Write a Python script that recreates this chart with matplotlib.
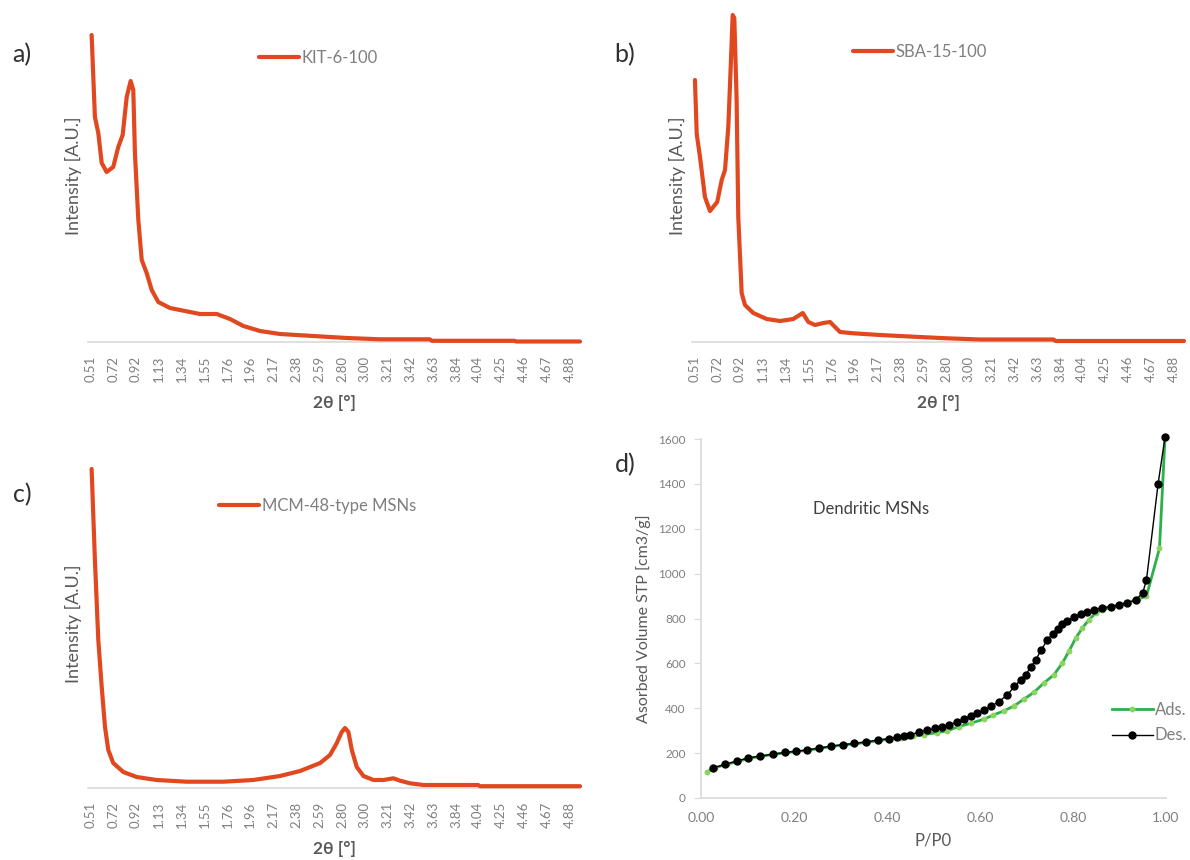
import matplotlib.pyplot as plt

plt.rcParams['font.family'] = ['Lato', 'DejaVu Sans']

# XRD tick labels (category axis)
xrd_ticks = ['0.51', '0.72', '0.92', '1.13', '1.34', '1.55', '1.76', '1.96', '2.17', '2.38', '2.59',
             '2.80', '3.00', '3.21', '3.42', '3.63', '3.84', '4.04', '4.25', '4.46', '4.67', '4.88']

# a) KIT-6-100
kit_x = [0.516, 0.546, 0.577, 0.608, 0.653, 0.713, 0.759, 0.799, 0.836, 0.872, 0.896, 0.911, 0.942,
         0.973, 1.018, 1.064, 1.124, 1.231, 1.413, 1.504, 1.657, 1.778, 1.90, 2.052, 2.234, 2.538,
         2.843, 3.147, 3.60, 3.62, 4.37, 4.39, 4.97]
kit_y = [307, 225, 209, 179, 170, 175, 195, 207, 245, 261, 252, 189, 122,
         82, 69, 52, 40, 34, 30, 28, 28, 23, 16, 11, 8, 6,
         4, 2.7, 2.7, 1.2, 1.2, 0.5, 0.5]

# b) SBA-15-100
sba_x = [0.51, 0.526, 0.556, 0.601, 0.647, 0.713, 0.754, 0.784, 0.814, 0.836, 0.854, 0.869, 0.89,
         0.905, 0.936, 0.966, 1.042, 1.164, 1.286, 1.407, 1.493, 1.544, 1.605, 1.681, 1.742, 1.833,
         1.954, 2.198, 2.502, 2.807, 3.11, 3.78, 3.80, 4.97]
sba_y = [262, 208, 185, 145, 131, 140, 162, 172, 215, 275, 327, 324, 242,
         125, 49, 37, 29, 23, 21, 23, 29, 20, 17, 19, 20, 10,
         8.7, 7, 5.3, 3.7, 2.5, 2.5, 1, 1]

# c) MCM-48-type MSNs
mcm_x = [0.516, 0.546, 0.577, 0.608, 0.638, 0.668, 0.713, 0.805, 0.927, 1.109, 1.383, 1.717, 1.99,
         2.234, 2.417, 2.60, 2.69, 2.752, 2.797, 2.827, 2.858, 2.889, 2.934, 2.995, 3.086, 3.177,
         3.268, 3.329, 3.42, 3.542, 4.04, 4.06, 4.97]
mcm_y = [319, 228, 148, 101, 61, 38, 25, 16, 11, 8, 6.3, 6.3, 8,
         12, 17, 25, 33, 45, 56, 60, 56, 38, 21, 12, 8, 8,
         9.7, 7.3, 4.7, 3, 3, 1.8, 1.8]

# d) Dendritic MSNs isotherm
ads_x = [0.012, 0.03, 0.055, 0.08, 0.105, 0.13, 0.155, 0.18, 0.205, 0.23, 0.255, 0.28, 0.305, 0.33,
         0.355, 0.38, 0.405, 0.43, 0.455, 0.48, 0.507, 0.529, 0.554, 0.58, 0.608, 0.629, 0.651,
         0.673, 0.694, 0.716, 0.737, 0.759, 0.777, 0.791, 0.806, 0.82, 0.834, 0.849, 0.863, 0.88,
         0.9, 0.92, 0.94, 0.958, 0.986, 0.998]
ads_y = [116, 135, 150, 164, 177, 186, 194, 201, 207, 213, 221, 229, 236, 241,
         248, 255, 262, 268, 275, 283, 291, 299, 318, 333, 351, 370, 388,
         410, 440, 471, 512, 549, 601, 653, 713, 757, 794, 824, 839, 850,
         860, 872, 887, 900, 1113, 1610]
des_x = [0.026, 0.052, 0.078, 0.102, 0.127, 0.154, 0.180, 0.205, 0.229, 0.254, 0.280, 0.305, 0.330,
         0.355, 0.380, 0.405, 0.422, 0.436, 0.45, 0.468, 0.486, 0.504, 0.519, 0.533, 0.551, 0.565,
         0.58, 0.594, 0.608, 0.623, 0.641, 0.659, 0.674, 0.688, 0.698, 0.709, 0.72, 0.732, 0.745,
         0.756, 0.767, 0.777, 0.788, 0.802, 0.817, 0.831, 0.845, 0.863, 0.881, 0.899, 0.917, 0.935,
         0.95, 0.958, 0.983, 0.998]
des_y = [134, 150, 165, 179, 187, 195, 203, 208, 214, 223, 231, 238, 243,
         250, 258, 265, 273, 277, 283, 292, 302, 310, 318, 325, 340, 352,
         366, 378, 390, 408, 430, 460, 497, 527, 549, 583, 616, 661, 705,
         732, 753, 775, 791, 806, 819, 831, 838, 849, 853, 860, 870, 882,
         915, 972, 1400, 1610]

W, H = 1190, 860
ORANGE = '#E1481F'
GRAY = '#7F7F7F'
DARK = '#595959'
AXC = '#D9D9D9'

fig = plt.figure(figsize=(W / 100, H / 100), dpi=100)


def box(l, r, b, t):
    return [l / W, 1 - b / H, (r - l) / W, (b - t) / H]


def xrd_panel(rect, x, y, ytop, name, leg_xy):
    ax = fig.add_axes(rect)
    ax.plot(x, y, color=ORANGE, lw=3.0, label=name, solid_joinstyle='round',
            solid_capstyle='round', clip_on=False)
    ax.set_xlim(0.483, 4.97)
    ax.set_ylim(0, ytop)
    for s in ['top', 'right', 'left']:
        ax.spines[s].set_visible(False)
    ax.spines['bottom'].set_color(AXC)
    ax.spines['bottom'].set_linewidth(1.2)
    ax.spines['bottom'].set_zorder(0)
    ax.set_yticks([])
    ax.set_xticks([float(t) for t in xrd_ticks])
    ax.set_xticklabels(xrd_ticks, rotation=90, fontsize=9.5, color=GRAY)
    ax.tick_params(axis='x', length=0, pad=10)
    ax.set_ylabel('Intensity [A.U.]', fontsize=13, color=DARK, labelpad=4)
    ax.set_xlabel('2θ [°]', fontsize=12.5, color=DARK, fontweight='bold', labelpad=9)
    ax.legend(loc='center left', bbox_to_anchor=leg_xy, frameon=False, fontsize=12,
              handlelength=2.4, handletextpad=0.15, borderpad=0, labelcolor=GRAY)
    return ax


xrd_panel(box(88, 580, 342, 10), kit_x, kit_y, 332, 'KIT-6-100', (0.33, 0.855))
xrd_panel(box(692, 1184, 342, 10), sba_x, sba_y, 332, 'SBA-15-100', (0.31, 0.873))
xrd_panel(box(88, 580, 788, 460), mcm_x, mcm_y, 328, 'MCM-48-type MSNs', (0.25, 0.86))

# d) isotherm
ax = fig.add_axes(box(701, 1166, 798, 439))
ax.plot(ads_x, ads_y, color='#2BB04A', lw=2, marker='o', ms=3.2, mfc='#8FD35F', mec='#8FD35F',
        label='Ads.', clip_on=False, zorder=2)
ax.plot(des_x, des_y, color='black', lw=1, marker='o', ms=5, label='Des.', clip_on=False, zorder=3)
ax.set_xlim(0, 1)
ax.set_ylim(0, 1600)
ax.set_xticks([0, 0.2, 0.4, 0.6, 0.8, 1.0])
ax.set_xticklabels(['0.00', '0.20', '0.40', '0.60', '0.80', '1.00'])
ax.set_yticks(range(0, 1601, 200))
for s in ['top', 'right']:
    ax.spines[s].set_visible(False)
for s in ['bottom', 'left']:
    ax.spines[s].set_color(AXC)
    ax.spines[s].set_linewidth(1.2)
ax.tick_params(axis='y', length=5, color=AXC, labelsize=8.5, labelcolor=GRAY, pad=6)
ax.tick_params(axis='x', length=0, labelsize=10, labelcolor=GRAY, pad=10)
ax.set_xlabel('P/P0', fontsize=12, color=DARK, labelpad=6)
ax.set_ylabel('Asorbed Volume STP [cm3/g]', fontsize=11.5, color=DARK, labelpad=5)
ax.text(0.366, 1289, 'Dendritic MSNs', fontsize=12, color='#404040', ha='center', va='center')
ax.legend(loc='upper left', bbox_to_anchor=(0.865, 0.29), frameon=False, fontsize=12,
          handlelength=2.5, handletextpad=0.1, borderpad=0, labelspacing=0.55, labelcolor=GRAY)

# panel letters
for lbl, px, py in [('a)', 22, 55), ('b)', 625, 55), ('c)', 22, 495), ('d)', 625, 465)]:
    fig.text(px / W, 1 - py / H, lbl, fontsize=18, color='#303030', ha='center', va='center')

fig.savefig('out.png', dpi=100)
